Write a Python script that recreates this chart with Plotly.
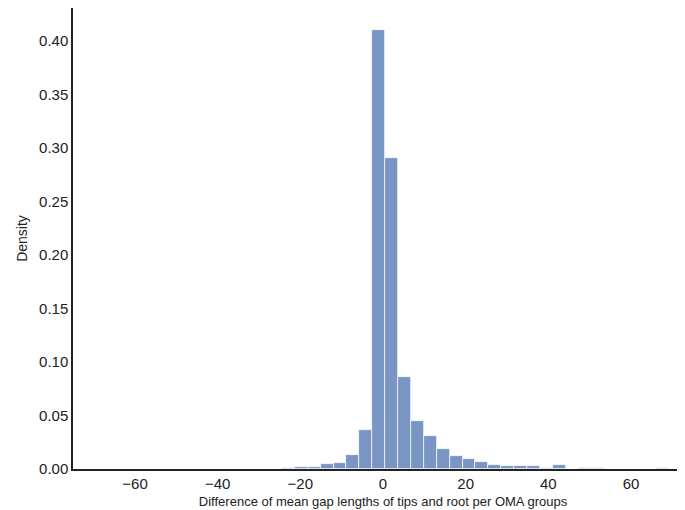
import plotly.graph_objects as go

bin_start = -2.6 - 3.12 * 7
bin_width = 3.12
density = [0.0005, 0.002, 0.002, 0.005, 0.006, 0.013, 0.036, 0.410, 0.291, 0.086, 0.045,
           0.031, 0.019, 0.012, 0.009, 0.007, 0.004, 0.003, 0.003, 0.003, 0.001, 0.004,
           0.0, 0.001, 0.001, 0.0, 0.0, 0.0, 0.0, 0.001]
centers = [bin_start + bin_width * (i + 0.5) for i in range(len(density))]

fig = go.Figure(go.Bar(x=centers, y=density, width=[bin_width] * len(density),
                       marker=dict(color="rgb(121,149,196)", line=dict(color="white", width=0.7))))
fig.update_layout(
    width=685, height=510, plot_bgcolor="white", paper_bgcolor="white",
    margin=dict(l=65, r=0, t=0, b=49, autoexpand=False), showlegend=False,
    font=dict(family="Liberation Sans, Arial", color="#222", size=15),
    xaxis=dict(range=[-75, 75], tickvals=[-60, -40, -20, 0, 20, 40, 60],
               ticktext=["\u221260", "\u221240", "\u221220", "0", "20", "40", "60"],
               showline=True, linecolor="#222", linewidth=1.5, showgrid=False, zeroline=False,
               ticks="", automargin=False,
               title=dict(text="Difference of mean gap lengths of tips and root per OMA groups",
                          font=dict(size=13), standoff=6)),
    yaxis=dict(range=[0, 0.431], tickvals=[0, 0.05, 0.1, 0.15, 0.2, 0.25, 0.3, 0.35, 0.4],
               tickformat=".2f", showline=True, linecolor="#222", linewidth=1.5, showgrid=False,
               zeroline=False, ticks="", automargin=False,
               title=dict(text="Density", font=dict(size=14), standoff=8)),
    bargap=0,
)
fig.write_html("out.html")
